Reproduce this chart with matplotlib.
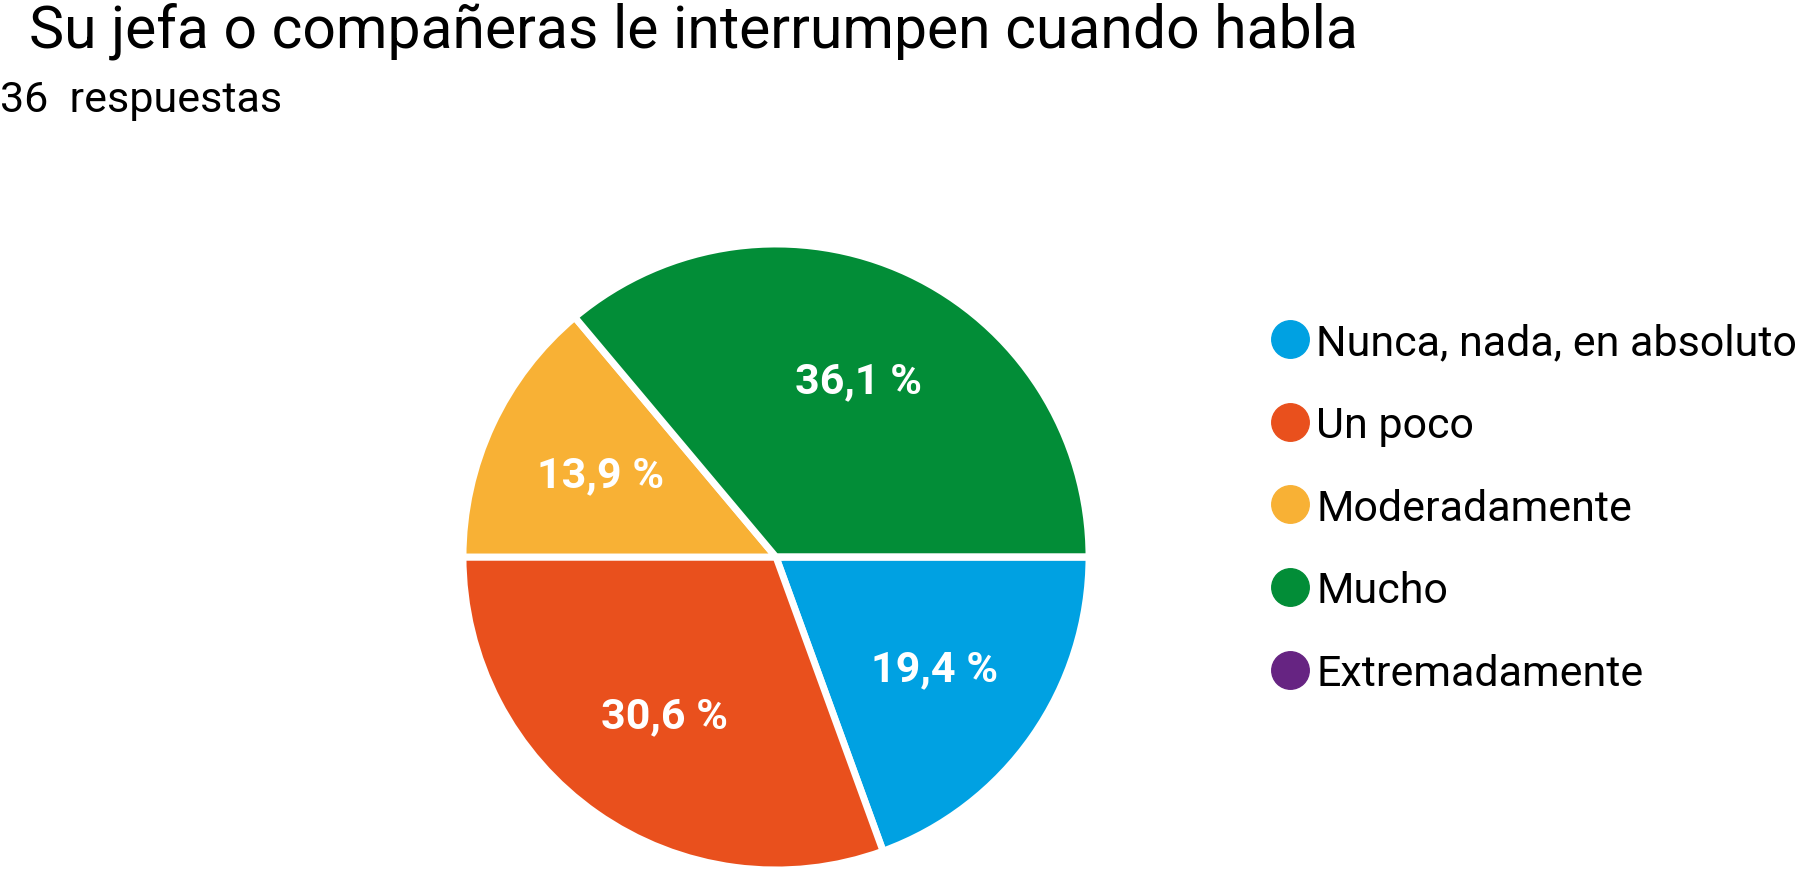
import matplotlib.pyplot as plt
from matplotlib.lines import Line2D

plt.rcParams['font.family'] = ['Roboto', 'DejaVu Sans']

title = 'Su jefa o compañeras le interrumpen cuando habla'
subtitle = '36  respuestas'
categories = ['Nunca, nada, en absoluto', 'Un poco', 'Moderadamente', 'Mucho', 'Extremadamente']
counts = [7, 11, 5, 13, 0]
colors = ['#00a1e2', '#e9501d', '#f8b135', '#028d37', '#662482']


def fmt_pct(p):
    if p < 0.05:
        return ''
    return f'{p:.1f} %'.replace('.', ',')


fig = plt.figure(figsize=(18.03, 8.78), dpi=100)

# pie axes: centre (776, 558) px, radius 313 px
W, H = 1803, 878
cx, cy, r = 776, 558, 313
ax = fig.add_axes([(cx - r) / W, (H - cy - r) / H, 2 * r / W, 2 * r / H])
wedges, texts, autotexts = ax.pie(
    counts, colors=colors, startangle=0, counterclock=False,
    autopct=fmt_pct, pctdistance=0.62,
    wedgeprops=dict(edgecolor='white', linewidth=5),
    textprops=dict(color='white', fontsize=31, fontweight='bold'))
ax.set_xlim(-1, 1)
ax.set_ylim(-1, 1)
ax.set_aspect('equal')

fig.text(29 / W, 1 - 48 / H, title, fontsize=42.4, va='baseline', ha='left')
fig.text(0, 1 - 112 / H, subtitle, fontsize=31, va='baseline', ha='left')

handles = [Line2D([], [], marker='o', linestyle='', markersize=27,
                  markerfacecolor=c, markeredgecolor=c) for c in colors]
fig.legend(handles, categories, loc='upper left', bbox_to_anchor=(1271 / W, 1 - 323 / H),
           frameon=False, fontsize=31, handlelength=0.9, handletextpad=0.15,
           labelspacing=0.97, borderaxespad=0, borderpad=0)

fig.savefig('out.png', dpi=100)
